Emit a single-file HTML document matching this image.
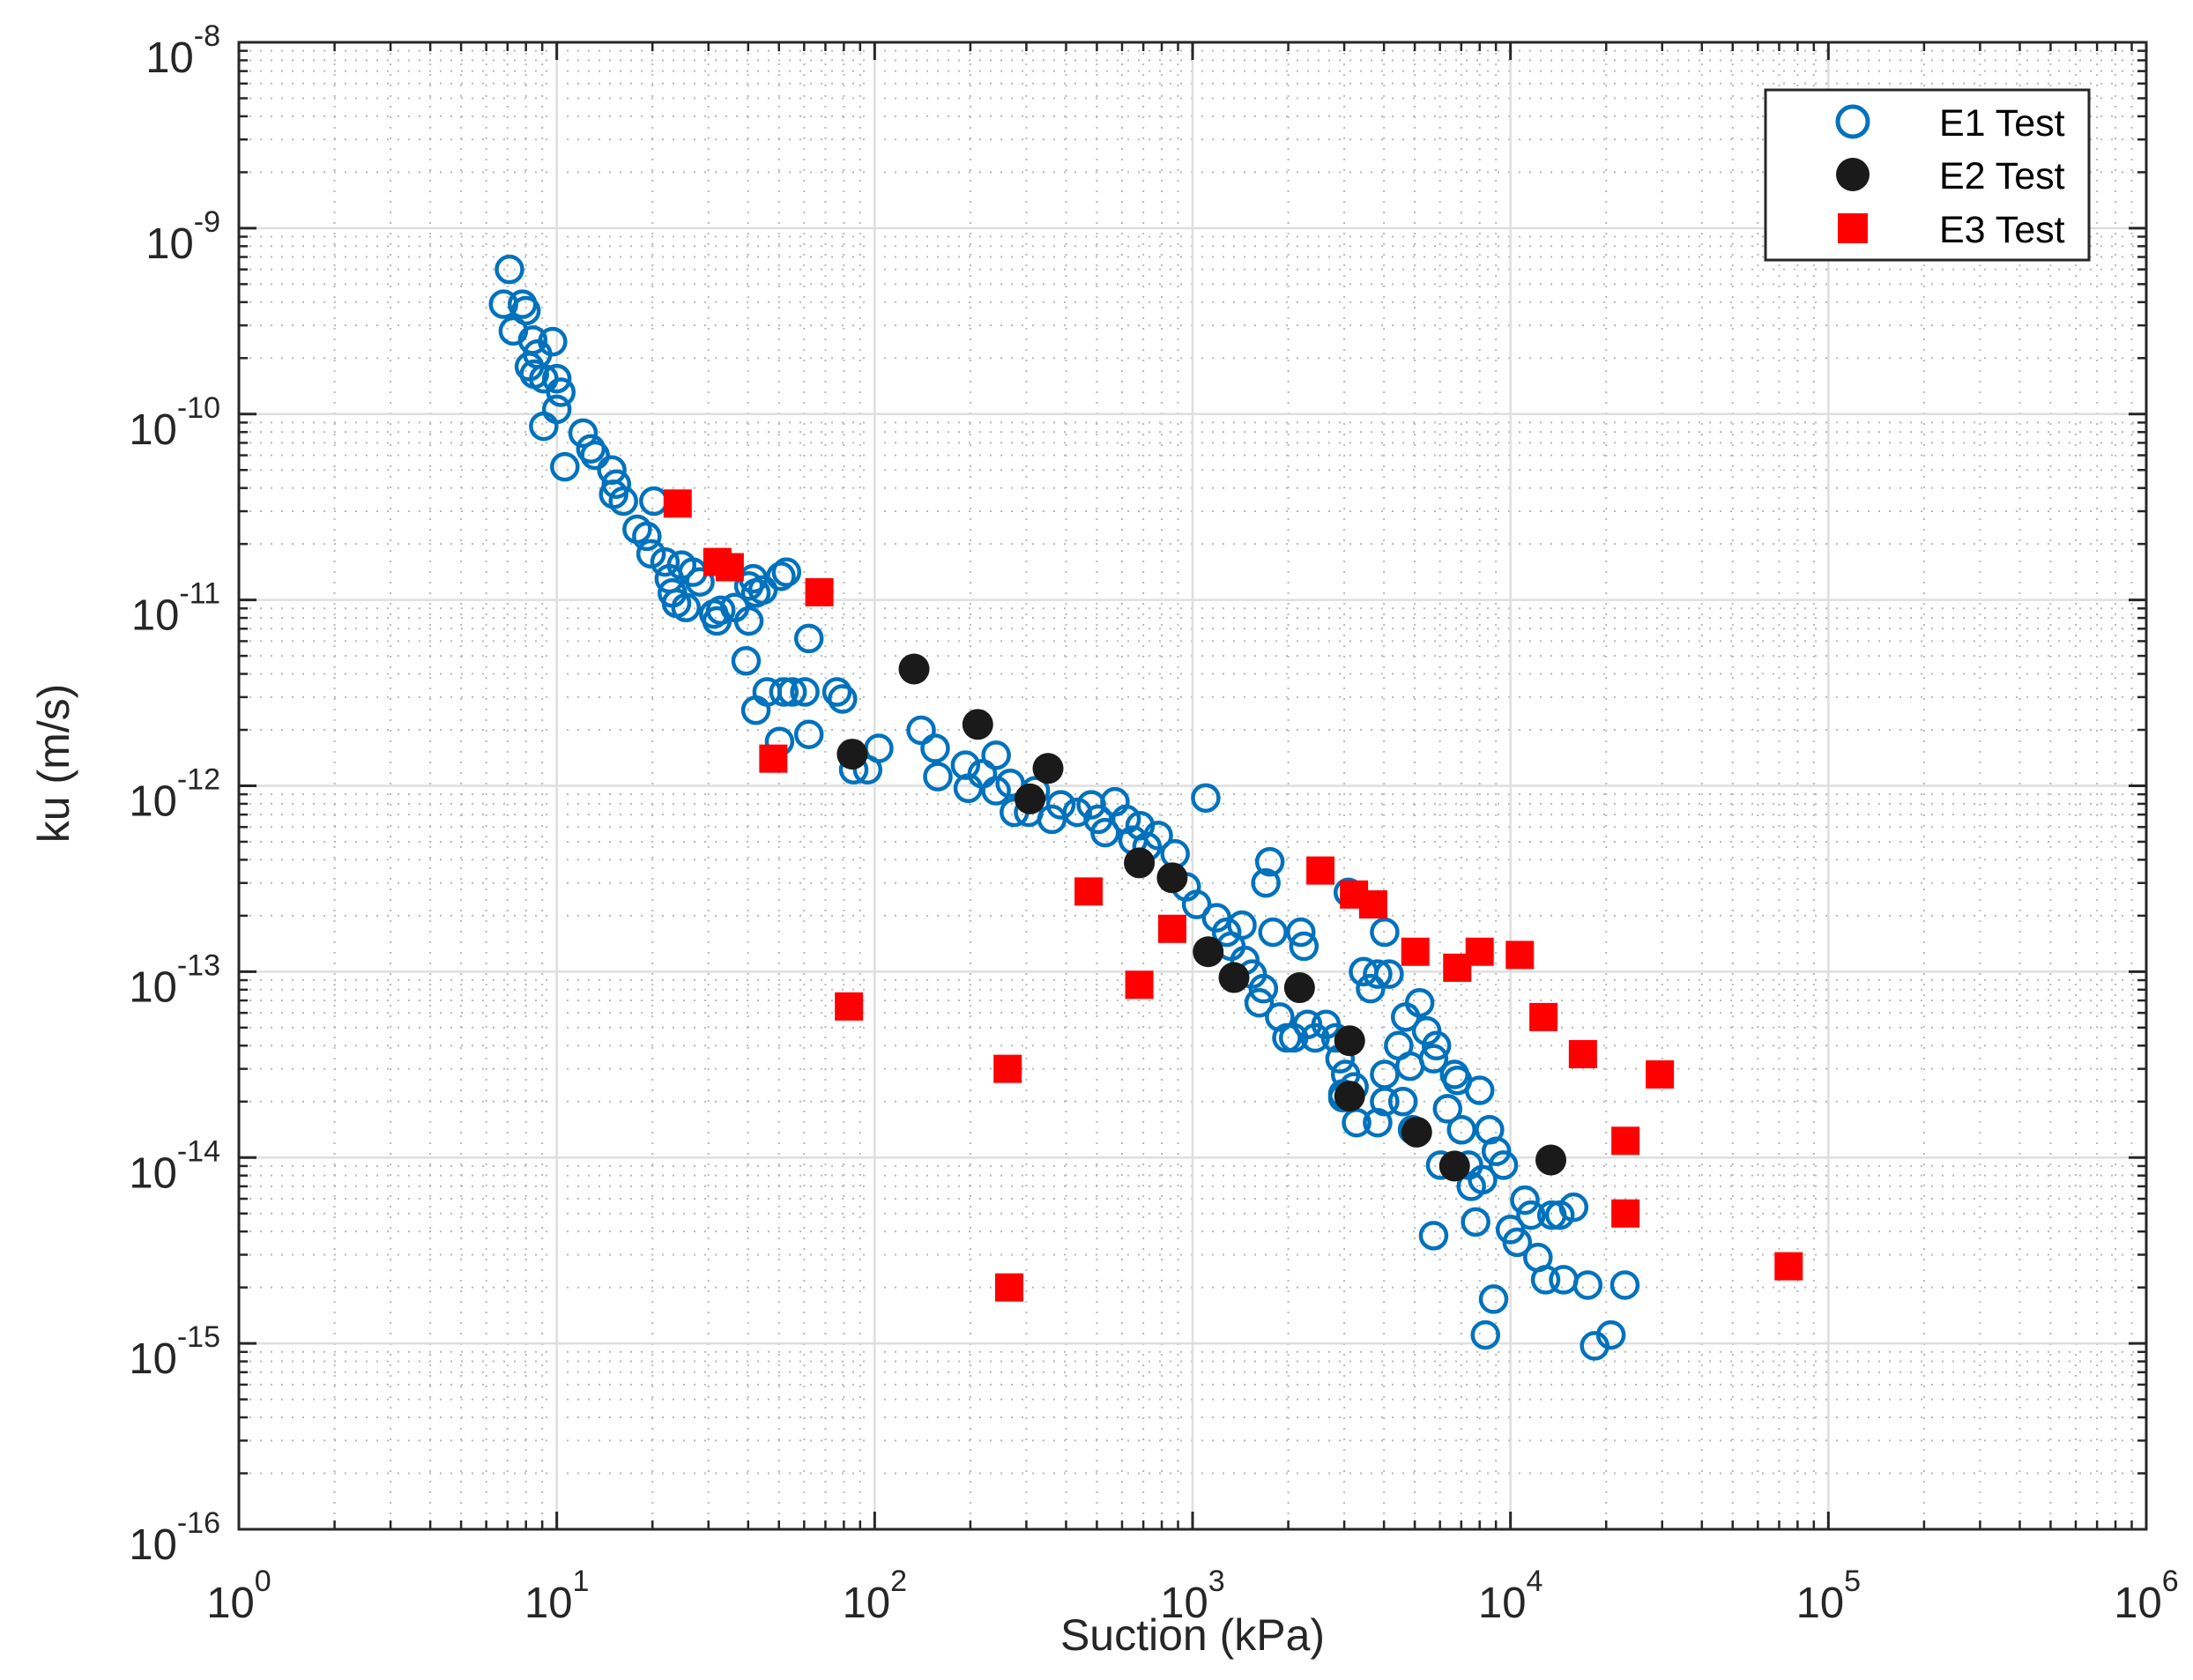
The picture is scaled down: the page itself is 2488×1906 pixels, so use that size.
<!DOCTYPE html>
<html><head><meta charset="utf-8"><style>
html,body{margin:0;padding:0;background:#fff;}
svg{display:block;font-family:"Liberation Sans",Arial,sans-serif;}
</style></head><body>
<svg id="chart" width="2488" height="1906" viewBox="0 0 2488 1906" xmlns="http://www.w3.org/2000/svg">
<rect x="0" y="0" width="2488" height="1906" fill="#fff"/>
<g id="grid"></g>
<g id="marks"></g>
<g id="axes"></g>
<text x="1353" y="1872" font-size="50" text-anchor="middle" fill="#262626">Suction (kPa)</text>
<text x="78" y="866" font-size="50" text-anchor="middle" fill="#262626" transform="rotate(-90 78 866)">ku (m/s)</text>
<g>
<rect x="2003" y="102" width="367" height="193" fill="#fff" stroke="#262626" stroke-width="3"/>
<g><circle cx="2102" cy="138" r="17" fill="none" stroke="#0072BD" stroke-width="5"/><text x="2200" y="154" font-size="43" fill="#000">E1 Test</text></g>
<g><circle cx="2102" cy="198" r="19" fill="#1a1a1a"/><text x="2200" y="214" font-size="43" fill="#000">E2 Test</text></g>
<g><rect x="2085" y="242" width="34" height="34" fill="#ff0000"/><text x="2200" y="275" font-size="43" fill="#000">E3 Test</text></g>
</g>
</svg>
<script>
const xTickExps = [0,1,2,3,4,5,6];
const yTickExps = [-8,-9,-10,-11,-12,-13,-14,-15,-16];
const e1Suction = [7.1,6.8,7.3,7.8,8.0,8.4,8.7,8.2,8.5,9.1,9.7,10,10.3,10,9.1,10.6,12.1,12.8,13.2,14.9,15.4,15.1,16.2,17.9,19.2,20.2,19.8,21.9,22.6,23.1,23.8,24.7,25.5,26.8,28.2,31.2,31.9,32.8,36.3,40.2,41.5,42.3,44.5,50.7,52.8,40.2,39.4,42.3,45.9,51.8,55.0,60.3,62.1,62.1,50.2,76.1,79.2,85.9,95,103,140,155,158,193,197,218,241,241,267,275,305,320,361,385,434,480,505,531,570,618,650,684,719,780,881,955,1030,1100,1190,1280,1320,1430,1460,1540,1620,1670,1750,1700,1790,1880,1980,2080,2190,2240,2300,2430,2630,2820,2910,2970,3090,3030,3220,3280,3450,3630,3820,4020,4150,4020,3820,4450,4590,4680,4830,4920,5180,5450,5730,5850,6030,5730,6340,6810,7020,7380,7530,7770,8170,8590,9030,9500,10000,10500,11100,11600,12200,12900,13500,14300,14700,15800,8850,8340,17500,18400,20700,22900,8000,6670,4020,2970];
const e1Ku = [6.0e-10,3.9e-10,2.8e-10,3.9e-10,3.6e-10,2.5e-10,2.1e-10,1.8e-10,1.64e-10,1.55e-10,2.45e-10,1.55e-10,1.31e-10,1.06e-10,8.6e-11,5.2e-11,7.9e-11,6.5e-11,6.0e-11,5.0e-11,4.2e-11,3.7e-11,3.4e-11,2.4e-11,2.2e-11,3.4e-11,1.77e-11,1.6e-11,1.3e-11,1.09e-11,9.6e-12,1.54e-11,9.1e-12,1.41e-11,1.25e-11,8.4e-12,7.7e-12,8.8e-12,9.1e-12,1.19e-11,1.3e-11,1.09e-11,1.13e-11,1.34e-11,1.41e-11,7.7e-12,4.7e-12,2.55e-12,3.2e-12,3.2e-12,3.2e-12,3.2e-12,6.2e-12,1.89e-12,1.73e-12,3.2e-12,2.93e-12,1.22e-12,1.22e-12,1.59e-12,1.99e-12,1.59e-12,1.12e-12,1.29e-12,9.7e-13,1.16e-12,1.46e-12,9.4e-13,1.03e-12,7.2e-13,7.2e-13,9.4e-13,6.6e-13,7.9e-13,7.2e-13,7.9e-13,6.6e-13,5.6e-13,8.2e-13,6.6e-13,5.1e-13,6.1e-13,4.7e-13,5.4e-13,4.3e-13,2.86e-13,2.3e-13,8.6e-13,1.95e-13,1.63e-13,1.37e-13,1.78e-13,1.15e-13,9.7e-14,6.8e-14,8.1e-14,3.9e-13,3.0e-13,1.63e-13,5.7e-14,4.4e-14,4.4e-14,1.63e-13,1.37e-13,5.2e-14,4.4e-14,5.2e-14,4.4e-14,3.4e-14,2.2e-14,2.67e-13,2.8e-14,2.4e-14,1.54e-14,1.0e-13,8.1e-14,9.7e-14,1.63e-13,9.7e-14,2.0e-14,1.54e-14,4.0e-14,2.0e-14,5.7e-14,3.1e-14,1.41e-14,6.8e-14,4.8e-14,3.4e-14,4.0e-14,9.1e-15,3.8e-15,1.83e-14,2.6e-14,1.41e-14,9.1e-15,7.0e-15,4.5e-15,7.6e-15,1.41e-14,1.08e-14,9.1e-15,4.1e-15,3.5e-15,5.9e-15,4.9e-15,2.9e-15,2.2e-15,4.9e-15,4.9e-15,2.2e-15,5.4e-15,1.73e-15,1.11e-15,2.06e-15,9.7e-16,1.11e-15,2.06e-15,2.3e-14,2.8e-14,2.8e-14,2.1e-14];
const e2Suction = [85,133,211,351,308,680,863,1120,1350,2170,3120,3120,5070,6670,13400];
const e2Ku = [1.48e-12,4.25e-12,2.14e-12,1.24e-12,8.5e-13,3.85e-13,3.2e-13,1.28e-13,9.3e-14,8.2e-14,4.25e-14,2.14e-14,1.37e-14,9.0e-15,9.7e-15];
const e3Suction = [24,32,35,67,48,83,262,265,471,680,863,2525,3220,3700,5020,6800,8000,10700,12700,16900,29500,23000,23000,75000];
const e3Ku = [3.3e-11,1.6e-11,1.5e-11,1.1e-11,1.4e-12,6.5e-14,3.0e-14,2.0e-15,2.7e-13,8.5e-14,1.7e-13,3.5e-13,2.6e-13,2.3e-13,1.28e-13,1.05e-13,1.28e-13,1.23e-13,5.7e-14,3.6e-14,2.8e-14,1.23e-14,5.0e-15,2.6e-15];

const NS = 'http://www.w3.org/2000/svg';
const L = 271, R = 2435, T = 48, B = 1735;
const xMin = 0, xMax = 6, yMin = -16, yMax = -8;
function xs(v){ return L + (Math.log10(v) - xMin) / (xMax - xMin) * (R - L); }
function ys(v){ return B - (Math.log10(v) - yMin) / (yMax - yMin) * (B - T); }
function mk(tag, attrs, parent){ const e = document.createElementNS(NS, tag); for (const k in attrs) e.setAttribute(k, attrs[k]); parent.appendChild(e); return e; }

const grid = document.getElementById('grid');
const axes = document.getElementById('axes');
const marks = document.getElementById('marks');

for (let d = xMin; d < xMax; d++) for (let m = 2; m <= 9; m++) {
  const x = xs(m * Math.pow(10, d));
  const ln = mk('line', {x1:x, x2:x, y1:T, y2:B, stroke:'#b8b8b8', 'stroke-width':2, 'stroke-dasharray':'2 10'}, grid);
  
  
  for (const [ya, yb] of [[B, B-10],[T, T+10]]) mk('line', {x1:x, x2:x, y1:ya, y2:yb, stroke:'#262626', 'stroke-width':2.5}, axes);
}
for (let d = yMin; d < yMax; d++) for (let m = 2; m <= 9; m++) {
  const y = ys(m * Math.pow(10, d));
  const ln = mk('line', {x1:L, x2:R, y1:y, y2:y, stroke:'#b8b8b8', 'stroke-width':2, 'stroke-dasharray':'2 10'}, grid);
  
  
  for (const [xa, xb] of [[L, L+10],[R, R-10]]) mk('line', {x1:xa, x2:xb, y1:y, y2:y, stroke:'#262626', 'stroke-width':2.5}, axes);
}
xTickExps.forEach(e => {
  const x = xs(Math.pow(10, e));
  const ln = mk('line', {x1:x, x2:x, y1:T, y2:B, stroke:'#dedede', 'stroke-width':2.5}, grid);
  
  
  mk('line', {x1:x, x2:x, y1:B, y2:B-20, stroke:'#262626', 'stroke-width':3}, axes);
  mk('line', {x1:x, x2:x, y1:T, y2:T+20, stroke:'#262626', 'stroke-width':3}, axes);
  const t = mk('text', {x:x, y:1835, 'font-size':49, 'text-anchor':'middle', fill:'#262626'}, axes);
  
  
  t.appendChild(document.createTextNode('10'));
  const s = mk('tspan', {'font-size':34, dy:-30}, t);
  s.textContent = String(e);
});
yTickExps.forEach(e => {
  const y = ys(Math.pow(10, e));
  const ln = mk('line', {x1:L, x2:R, y1:y, y2:y, stroke:'#dedede', 'stroke-width':2.5}, grid);
  
  
  mk('line', {x1:L, x2:L+20, y1:y, y2:y, stroke:'#262626', 'stroke-width':3}, axes);
  mk('line', {x1:R, x2:R-20, y1:y, y2:y, stroke:'#262626', 'stroke-width':3}, axes);
  const t = mk('text', {x:250, y:y+34, 'font-size':49, 'text-anchor':'end', fill:'#262626'}, axes);
  
  
  t.appendChild(document.createTextNode('10'));
  const s = mk('tspan', {'font-size':34, dy:-30}, t);
  s.textContent = String(e);
});
const box = mk('rect', {x:L, y:T, width:R-L, height:B-T, fill:'none', stroke:'#262626', 'stroke-width':3}, axes);



e1Suction.forEach((v, i) => {
  const c = mk('circle', {cx:xs(v), cy:ys(e1Ku[i]), r:14.5, fill:'none', stroke:'#0072BD', 'stroke-width':4.5}, marks);
  
  
});
e2Suction.forEach((v, i) => {
  const c = mk('circle', {cx:xs(v), cy:ys(e2Ku[i]), r:17.5, fill:'#1a1a1a'}, marks);
  
  
});
e3Suction.forEach((v, i) => {
  const r = mk('rect', {x:xs(v)-16, y:ys(e3Ku[i])-16, width:32, height:32, fill:'#ff0000'}, marks);
  
  
});
</script>
</body></html>
